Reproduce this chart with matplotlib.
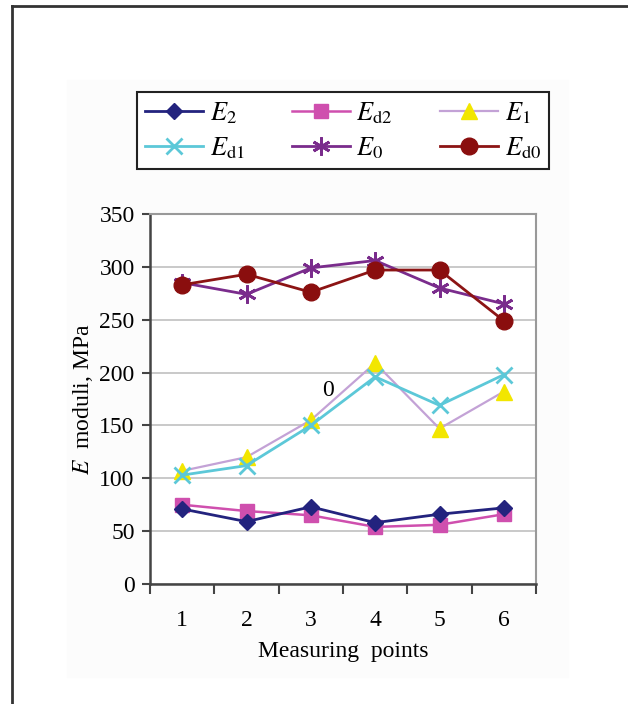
import numpy as np
import matplotlib.pyplot as plt
from matplotlib.lines import Line2D
from matplotlib.patches import Rectangle

plt.rcParams['font.family'] = ['Liberation Serif', 'DejaVu Serif']
plt.rcParams['mathtext.fontset'] = 'stix'

# data
points = [1, 2, 3, 4, 5, 6]
E2 = [71, 59, 73, 58, 66, 72]
Ed2 = [75, 69, 65, 54, 56, 66]
E1 = [107, 120, 155, 209, 147, 182]
Ed1 = [103, 112, 150, 196, 169, 198]
E0 = [285, 274, 299, 306, 280, 265]
Ed0 = [283, 293, 276, 297, 297, 249]

fig = plt.figure(figsize=(6.28, 7.04), dpi=100)

# faint panel behind the chart + outer frame (left and top only)
fig.patches.append(Rectangle((67 / 628, 1 - 677 / 704), 501 / 628, 597 / 704,
                             transform=fig.transFigure, color='#fcfcfc', zorder=-10))
fig.add_artist(Line2D([12 / 628, 12 / 628], [0, 1 - 6 / 704], transform=fig.transFigure,
                      color='#333333', lw=2))
fig.add_artist(Line2D([12 / 628, 1], [1 - 6 / 704, 1 - 6 / 704], transform=fig.transFigure,
                      color='#333333', lw=2))

ax = fig.add_axes([150 / 628, 1 - 584 / 704, 386 / 628, 370 / 704])
ax.set_facecolor('white')

l_e2, = ax.plot(points, E2, color='#23237e', lw=2, marker='D', ms=8, zorder=5)
l_ed2, = ax.plot(points, Ed2, color='#cf4fae', lw=1.8, marker='s', ms=10, zorder=4)
l_e1, = ax.plot(points, E1, color='#c3a2d6', lw=1.6, marker='^', ms=11,
                mfc='#f2e600', mec='#f2e600', zorder=3)
l_ed1, = ax.plot(points, Ed1, color='#5cc8d8', lw=2, marker='x', ms=11, mew=2, zorder=4)
l_e0, = ax.plot(points, E0, color='#7a2c8c', lw=2, marker=(6, 2, 0), ms=13, mew=2, zorder=4)
l_ed0, = ax.plot(points, Ed0, color='#8c1414', lw=2, marker='o', ms=12,
                 mfc='#8a0e0e', mec='#8a0e0e', zorder=5)

ax.text(3.27, 183, '0', fontsize=17, ha='center', va='center')

ax.set_xlim(0.5, 6.5)
ax.set_ylim(0, 350)
ax.set_yticks(np.arange(0, 351, 50))
ax.yaxis.grid(True, color='#c0c0c0', lw=1.2)
ax.set_axisbelow(True)

ax.set_xticks(np.arange(0.5, 6.6, 1))
ax.set_xticklabels([])
ax.set_xticks(points, minor=True)
ax.set_xticklabels([str(p) for p in points], minor=True)
ax.tick_params(axis='x', which='major', length=7, width=1.5, color='#444444', direction='out')
ax.tick_params(axis='x', which='minor', length=0, pad=19, labelsize=17)
ax.tick_params(axis='y', length=6, width=1.5, color='#444444', pad=5, labelsize=17)

for s in ['left', 'bottom']:
    ax.spines[s].set_color('#444444')
    ax.spines[s].set_linewidth(1.8)
for s in ['top', 'right']:
    ax.spines[s].set_color('#999999')
    ax.spines[s].set_linewidth(1.5)

ax.set_xlabel('Measuring  points', fontsize=17, labelpad=7)
ax.set_ylabel(r'$E$  moduli, MPa', fontsize=17, labelpad=3)

handles = [l_e2, l_ed1, l_ed2, l_e0, l_e1, l_ed0]
labels = [r'$E_2$', r'$E_{\rm d1}$', r'$E_{\rm d2}$', r'$E_0$', r'$E_1$', r'$E_{\rm d0}$']
leg = fig.legend(handles, labels, ncol=3, loc='center',
                 bbox_to_anchor=(124 / 628, 1 - 168 / 704, 438 / 628, 75 / 704),
                 mode='expand', fontsize=19, handlelength=2.2, handletextpad=0.25,
                 columnspacing=1.5, labelspacing=0.35, borderpad=0.3,
                 fancybox=False, framealpha=1)
leg.get_frame().set_edgecolor('#222222')
leg.get_frame().set_linewidth(1.5)

fig.savefig('out.png', dpi=100)
